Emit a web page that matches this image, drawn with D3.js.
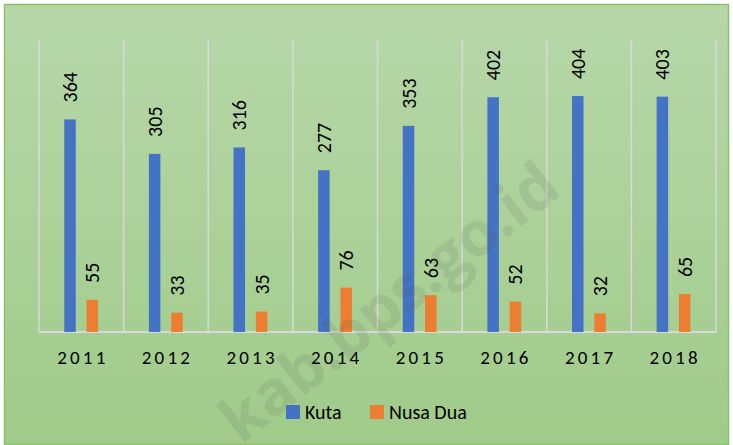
<!DOCTYPE html>
<html>
<head>
<meta charset="utf-8">
<script src="https://cdn.jsdelivr.net/npm/d3@7"></script>
<style>
  body { margin: 0; background: #fff; }
  svg { display: block; font-family: Carlito, Calibri, "Open Sans", sans-serif; }
</style>
</head>
<body>
<svg width="733" height="445"></svg>
<script>
const svg = d3.select('svg');
const width = +svg.attr('width');
const height = +svg.attr('height');

const years = ['2011', '2012', '2013', '2014', '2015', '2016', '2017', '2018'];
const kuta = [364, 305, 316, 277, 353, 402, 404, 403];
const nusaDua = [55, 33, 35, 76, 63, 52, 32, 65];
const seriesNames = ['Kuta', 'Nusa Dua'];
const seriesColors = ['#4472c4', '#ed7d31'];

const rows = years.map((y, i) => ({ year: y, values: [kuta[i], nusaDua[i]] }));

// background gradient
const defs = svg.append('defs');
const grad = defs.append('linearGradient')
  .attr('id', 'bg')
  .attr('x1', 0).attr('y1', 0).attr('x2', 0).attr('y2', 1);
grad.append('stop').attr('offset', '0%').attr('stop-color', '#b7d7a9');
grad.append('stop').attr('offset', '100%').attr('stop-color', '#a0cb8a');

svg.append('rect')
  .attr('x', 4.5).attr('y', 4.5)
  .attr('width', width - 9).attr('height', height - 5)
  .attr('fill', 'url(#bg)')
  .attr('stroke', '#8cc16b')
  .attr('stroke-width', 1.5);

const margin = { top: 40, left: 39, right: 17, bottom: 113 };
const plotW = width - margin.left - margin.right;
const plotH = height - margin.top - margin.bottom;

const g = svg.append('g')
  .attr('transform', `translate(${margin.left}, ${margin.top})`);

const x = d3.scaleBand()
  .domain(years)
  .range([0, plotW]);

const y = d3.scaleLinear()
  .domain([0, 500])
  .range([plotH, 0]);

// vertical category gridlines
g.selectAll('line.grid')
  .data(d3.range(years.length + 1))
  .enter().append('line')
    .attr('class', 'grid')
    .attr('x1', i => i * x.step())
    .attr('x2', i => i * x.step())
    .attr('y1', 0)
    .attr('y2', plotH)
    .attr('stroke', '#d9d9d9')
    .attr('stroke-width', 1.5);

// baseline
g.append('line')
  .attr('x1', 0).attr('x2', plotW)
  .attr('y1', plotH).attr('y2', plotH)
  .attr('stroke', '#d9d9d9')
  .attr('stroke-width', 2);

const barW = 11.5;
const offsets = [-11.3, 11];

const groups = g.selectAll('g.year')
  .data(rows)
  .enter().append('g')
    .attr('class', 'year')
    .attr('transform', d => `translate(${x(d.year) + x.bandwidth() / 2}, 0)`);

groups.selectAll('rect')
  .data(d => d.values.map((v, k) => ({ v, k })))
  .enter().append('rect')
    .attr('x', d => offsets[d.k] - barW / 2)
    .attr('y', d => y(d.v))
    .attr('width', barW)
    .attr('height', d => plotH - y(d.v))
    .attr('fill', d => seriesColors[d.k]);

groups.selectAll('text.val')
  .data(d => d.values.map((v, k) => ({ v, k })))
  .enter().append('text')
    .attr('class', 'val')
    .attr('transform', d => `translate(${offsets[d.k] + 7}, ${y(d.v) - 17}) rotate(-90)`)
    .attr('font-size', 20)
    .attr('fill', '#000')
    .text(d => d.v);

// year labels
g.selectAll('text.year')
  .data(years)
  .enter().append('text')
    .attr('class', 'year')
    .attr('x', d => x(d) + x.bandwidth() / 2 + 1.5)
    .attr('y', plotH + 32)
    .attr('text-anchor', 'middle')
    .attr('font-size', 19)
    .attr('letter-spacing', 3.2)
    .attr('fill', '#000')
    .text(d => d);

// legend
const legend = svg.append('g').attr('transform', 'translate(286, 405)');
const legendX = [0, 84];
const items = legend.selectAll('g')
  .data(seriesNames)
  .enter().append('g')
    .attr('transform', (d, i) => `translate(${legendX[i]}, 0)`);
items.append('rect')
  .attr('width', 14).attr('height', 14)
  .attr('fill', (d, i) => seriesColors[i]);
items.append('text')
  .attr('x', 19).attr('y', 13.5)
  .attr('font-size', 20)
  .attr('fill', '#000')
  .text(d => d);

// watermark
svg.append('text')
  .attr('transform', 'translate(392, 306) rotate(-38)')
  .attr('text-anchor', 'middle')
  .attr('dominant-baseline', 'middle')
  .attr('font-size', 62)
  .attr('font-weight', 'bold')
  .attr('font-family', '"Open Sans", sans-serif')
  .attr('fill', '#555')
  .attr('fill-opacity', 0.13)
  .text('kab.bps.go.id');
</script>
</body>
</html>
